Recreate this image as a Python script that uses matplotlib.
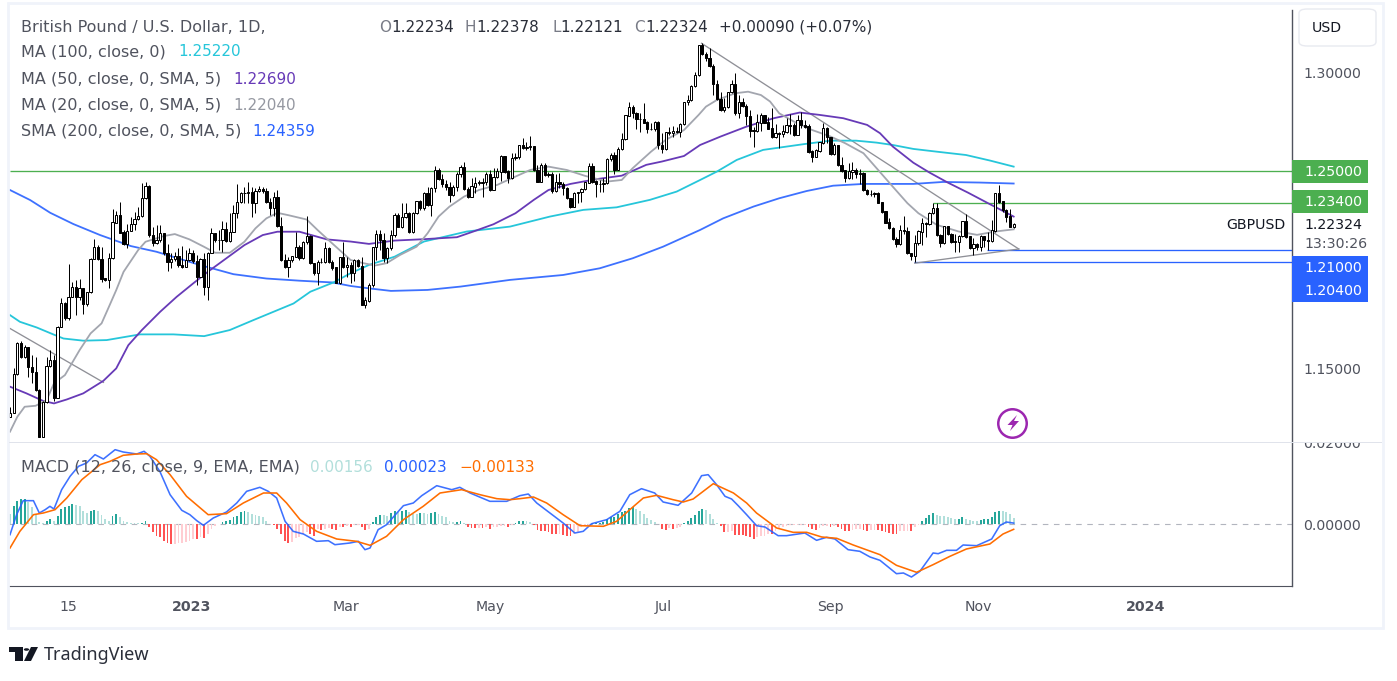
import numpy as np
import matplotlib
matplotlib.use('Agg')
import matplotlib.pyplot as plt
from matplotlib.patches import Rectangle, FancyBboxPatch, Polygon, Circle
from matplotlib.transforms import Bbox

W, H = 1397, 681

# daily candles
closes = [
    1.1272,1.1469,1.1625,1.1557,1.1608,1.1506,1.1481,1.1388,1.1150,1.1328,
    1.1510,1.1540,1.1349,1.1710,1.1832,1.1752,1.1862,1.1910,1.1859,1.1905,
    1.1825,1.1884,1.2054,1.2113,1.2054,1.1955,1.1947,1.2057,1.2239,1.2277,
    1.2188,1.2133,1.2196,1.2232,1.2259,1.2272,1.2362,1.2425,1.2176,1.2137,
    1.2150,1.2184,1.2083,1.2040,1.2052,1.2066,1.2023,1.2015,1.2049,1.2083,
    1.2045,1.1964,1.2052,1.1910,1.2086,1.2184,1.2150,1.2150,1.2208,1.2147,
    1.2193,1.2286,1.2345,1.2388,1.2388,1.2396,1.2337,1.2400,1.2408,1.2398,
    1.2342,1.2316,1.2371,1.2222,1.2049,1.2015,1.2049,1.2066,1.2116,1.2057,
    1.2142,1.2171,1.2032,1.1984,1.2040,1.2040,1.2108,1.2040,1.2011,1.1933,
    1.2062,1.2015,1.2023,1.1982,1.2046,1.2019,1.1821,1.1843,1.1922,1.2114,
    1.2180,1.2151,1.2058,1.2109,1.2177,1.2278,1.2219,1.2266,1.2287,1.2190,
    1.2287,1.2346,1.2312,1.2388,1.2329,1.2414,1.2507,1.2460,1.2436,1.2419,
    1.2380,1.2419,1.2487,1.2521,1.2411,1.2372,1.2422,1.2439,1.2443,1.2444,
    1.2487,1.2405,1.2470,1.2499,1.2578,1.2499,1.2465,1.2566,1.2572,1.2631,
    1.2617,1.2622,1.2626,1.2507,1.2448,1.2533,1.2482,1.2487,1.2402,1.2443,
    1.2436,1.2414,1.2363,1.2321,1.2388,1.2394,1.2409,1.2443,1.2527,1.2448,
    1.2436,1.2436,1.2439,1.2561,1.2583,1.2507,1.2612,1.2663,1.2783,1.2826,
    1.2795,1.2765,1.2765,1.2748,1.2714,1.2714,1.2750,1.2634,1.2612,1.2697,
    1.2697,1.2702,1.2702,1.2739,1.2851,1.2863,1.2934,1.2990,1.3139,1.3095,
    1.3075,1.3036,1.2943,1.2866,1.2812,1.2826,1.2902,1.2944,1.2795,1.2850,
    1.2833,1.2782,1.2707,1.2707,1.2748,1.2787,1.2748,1.2717,1.2673,1.2694,
    1.2690,1.2702,1.2736,1.2733,1.2685,1.2758,1.2736,1.2727,1.2600,1.2575,
    1.2605,1.2646,1.2719,1.2673,1.2588,1.2634,1.2533,1.2504,1.2465,1.2499,
    1.2507,1.2487,1.2490,1.2405,1.2385,1.2383,1.2388,1.2341,1.2295,1.2239,
    1.2211,1.2155,1.2131,1.2202,1.2197,1.2083,1.2070,1.2134,1.2194,1.2236,
    1.2233,1.2287,1.2312,1.2177,1.2134,1.2219,1.2180,1.2143,1.2141,1.2172,
    1.2244,1.2168,1.2109,1.2131,1.2117,1.2172,1.2151,1.2148,1.2199,1.2388,
    1.2346,1.2304,1.2270,1.2219,1.2232]
highs = [
    1.1303,1.1498,1.1633,1.1639,1.1616,1.1608,1.1566,1.1557,1.1391,1.1333,
    1.1557,1.1594,1.1566,1.1713,1.1854,1.1837,1.2028,1.1939,1.1950,1.1955,
    1.1896,1.1888,1.2057,1.2154,1.2125,1.2116,1.1959,1.2083,1.2306,1.2300,
    1.2342,1.2201,1.2232,1.2269,1.2294,1.2320,1.2442,1.2447,1.2430,1.2218,
    1.2227,1.2227,1.2188,1.2128,1.2083,1.2091,1.2108,1.2120,1.2100,1.2108,
    1.2100,1.2074,1.2057,1.2083,1.2091,1.2210,1.2188,1.2201,1.2249,1.2244,
    1.2286,1.2328,1.2435,1.2396,1.2418,1.2447,1.2422,1.2413,1.2425,1.2422,
    1.2413,1.2362,1.2396,1.2405,1.2269,1.2079,1.2066,1.2069,1.2193,1.2125,
    1.2147,1.2272,1.2176,1.2035,1.2049,1.2057,1.2142,1.2116,1.2049,1.2015,
    1.2066,1.2142,1.2066,1.2041,1.2053,1.2053,1.2066,1.1863,1.1931,1.2117,
    1.2202,1.2202,1.2185,1.2117,1.2202,1.2287,1.2290,1.2338,1.2341,1.2295,
    1.2295,1.2351,1.2355,1.2394,1.2422,1.2422,1.2527,1.2516,1.2485,1.2456,
    1.2448,1.2431,1.2499,1.2533,1.2546,1.2422,1.2465,1.2473,1.2456,1.2465,
    1.2499,1.2507,1.2516,1.2516,1.2583,1.2575,1.2507,1.2595,1.2592,1.2634,
    1.2668,1.2651,1.2680,1.2629,1.2533,1.2541,1.2541,1.2499,1.2499,1.2487,
    1.2490,1.2448,1.2422,1.2363,1.2394,1.2397,1.2417,1.2448,1.2544,1.2544,
    1.2456,1.2456,1.2465,1.2566,1.2595,1.2600,1.2622,1.2697,1.2787,1.2855,
    1.2838,1.2804,1.2795,1.2846,1.2758,1.2744,1.2758,1.2758,1.2694,1.2702,
    1.2724,1.2731,1.2727,1.2744,1.2855,1.2888,1.2939,1.3007,1.3143,1.3151,
    1.3109,1.3126,1.3044,1.2965,1.2905,1.2872,1.2905,1.2965,1.2999,1.2888,
    1.2872,1.2843,1.2812,1.2727,1.2792,1.2795,1.2787,1.2775,1.2821,1.2739,
    1.2702,1.2736,1.2770,1.2792,1.2748,1.2787,1.2804,1.2761,1.2741,1.2609,
    1.2612,1.2651,1.2744,1.2727,1.2677,1.2643,1.2634,1.2572,1.2507,1.2544,
    1.2550,1.2516,1.2511,1.2499,1.2409,1.2405,1.2397,1.2397,1.2346,1.2300,
    1.2261,1.2216,1.2165,1.2227,1.2273,1.2219,1.2087,1.2177,1.2202,1.2261,
    1.2244,1.2295,1.2338,1.2338,1.2182,1.2222,1.2219,1.2188,1.2182,1.2177,
    1.2250,1.2283,1.2168,1.2160,1.2138,1.2177,1.2172,1.2194,1.2253,1.2392,
    1.2431,1.2351,1.2307,1.2307,1.2236]
lows = [
    1.1252,1.1269,1.1464,1.1549,1.1549,1.1455,1.1422,1.1384,1.1147,1.1147,
    1.1320,1.1506,1.1333,1.1345,1.1710,1.1744,1.1744,1.1862,1.1769,1.1845,
    1.1777,1.1815,1.1879,1.2052,1.2049,1.1939,1.1944,1.1905,1.2055,1.2239,
    1.2184,1.2125,1.2108,1.2201,1.2201,1.2252,1.2269,1.2357,1.2167,1.2120,
    1.2133,1.2142,1.2074,1.1994,1.2006,1.2045,1.2015,1.2006,1.2015,1.2045,
    1.2032,1.1922,1.1961,1.1871,1.1845,1.2083,1.2142,1.2100,1.2091,1.2142,
    1.2142,1.2193,1.2261,1.2337,1.2337,1.2337,1.2266,1.2286,1.2396,1.2388,
    1.2337,1.2277,1.2272,1.2218,1.2045,1.2011,1.1964,1.2040,1.2066,1.2049,
    1.2052,1.2133,1.2028,1.1972,1.1922,1.2035,1.2035,1.2032,1.1998,1.1930,
    1.1927,1.2006,1.1964,1.1931,1.1944,1.2016,1.1821,1.1804,1.1838,1.1914,
    1.2050,1.2100,1.2041,1.2033,1.2100,1.2168,1.2216,1.2211,1.2261,1.2188,
    1.2188,1.2283,1.2304,1.2304,1.2324,1.2275,1.2397,1.2456,1.2422,1.2405,
    1.2346,1.2377,1.2400,1.2473,1.2405,1.2363,1.2368,1.2388,1.2431,1.2372,
    1.2431,1.2402,1.2405,1.2465,1.2453,1.2490,1.2443,1.2460,1.2558,1.2561,
    1.2612,1.2609,1.2609,1.2504,1.2446,1.2446,1.2477,1.2473,1.2392,1.2397,
    1.2414,1.2380,1.2358,1.2312,1.2317,1.2338,1.2346,1.2405,1.2439,1.2439,
    1.2372,1.2397,1.2397,1.2436,1.2555,1.2487,1.2507,1.2609,1.2660,1.2782,
    1.2770,1.2717,1.2702,1.2744,1.2694,1.2710,1.2707,1.2612,1.2595,1.2609,
    1.2685,1.2677,1.2694,1.2677,1.2736,1.2838,1.2860,1.2931,1.2987,1.3092,
    1.3063,1.3033,1.2888,1.2863,1.2809,1.2804,1.2821,1.2897,1.2787,1.2770,
    1.2826,1.2736,1.2677,1.2626,1.2702,1.2707,1.2744,1.2714,1.2668,1.2668,
    1.2617,1.2677,1.2697,1.2690,1.2680,1.2727,1.2719,1.2722,1.2595,1.2550,
    1.2572,1.2600,1.2639,1.2643,1.2583,1.2583,1.2527,1.2499,1.2448,1.2461,
    1.2461,1.2465,1.2436,1.2402,1.2380,1.2375,1.2372,1.2338,1.2290,1.2236,
    1.2205,1.2151,1.2114,1.2126,1.2182,1.2080,1.2050,1.2038,1.2126,1.2126,
    1.2168,1.2227,1.2283,1.2172,1.2117,1.2131,1.2177,1.2134,1.2092,1.2092,
    1.2164,1.2160,1.2104,1.2075,1.2100,1.2097,1.2117,1.2100,1.2143,1.2194,
    1.2341,1.2295,1.2244,1.2216,1.2211]
first_open = 1.1252

# moving averages: bar number / price at the bends of each line
ma20_bar = [0,2,4,7,10,12,15,19,22,25,27,29,31,35,37,42,45,49,53,56,60,64,67,70,73,76,81,84,88,93,
            96.5,99.6,102.8,106.5,111,114,117,120,124,128,133,137,142,147,152,157,163,167,170,175,179,184,188,
            190,193,198,201.5,205,207.5,210,214,219,224,228,233,237,241,245,248,253,259,264,269,274]
ma20_val = [1.1176,1.1252,1.1303,1.1308,1.1337,1.1422,1.1464,1.1591,1.1676,1.1727,1.1811,1.1896,1.1989,1.2100,1.2142,
            1.2171,1.2181,1.2154,1.2116,1.2086,1.2086,1.2142,1.2210,1.2261,1.2289,1.2277,1.2255,1.2201,1.2133,1.2049,
            1.2033,1.2021,1.2033,1.2075,1.2117,1.2185,1.2270,1.2321,1.2372,1.2405,1.2431,1.2465,1.2507,1.2524,1.2507,
            1.2477,1.2448,1.2456,1.2516,1.2600,1.2660,1.2710,1.2787,
            1.2829,1.2863,1.2897,1.2905,1.2888,1.2855,1.2795,1.2753,1.2710,1.2677,1.2643,1.2592,1.2507,1.2422,1.2338,
            1.2287,1.2228,1.2194,1.2177,1.2194,1.2205]
ma50_bar = [0,4.5,9,12,15.5,20,25.5,29,32.3,36,41,45.5,50,54,59,64,69,73,79,86.5,93,
            98,105,113,122,126.5,132,138,143,147,153,160,167,173.7,178,184,188.4,
            194,201,208.5,215.6,221,227.5,234,237.5,241,246.6,251,256,261.5,267,274]
ma50_val = [1.1405,1.1371,1.1333,1.1320,1.1340,1.1371,1.1435,1.1498,1.1616,1.1693,1.1786,1.1862,1.1930,1.1989,
            1.2057,1.2125,1.2176,1.2193,1.2193,1.2154,1.2143,
            1.2131,1.2148,1.2155,1.2165,1.2194,1.2231,1.2287,1.2355,1.2405,1.2436,1.2460,1.2478,1.2533,1.2550,1.2578,1.2634,
            1.2677,1.2727,1.2770,1.2799,1.2787,1.2770,1.2736,1.2694,1.2626,1.2544,1.2494,1.2443,1.2392,1.2338,1.2270]
ma100_bar = [0,2.7,7.3,11.8,14.6,20,26.4,35.5,44.6,53,60,66.5,77.4,82,88.3,93,
             98,105,113,124.7,136.5,147.4,156.5,165.6,174.7,182,188.4,
             193,198.4,205.6,216.6,224,231,236.6,241,246.6,253,261,267.5,274]
ma100_val = [1.1769,1.1735,1.1706,1.1671,1.1650,1.1639,1.1642,1.1671,1.1671,1.1662,1.1693,1.1744,1.1828,1.1888,1.1935,1.1982,
             1.2024,1.2066,1.2143,1.2194,1.2219,1.2270,1.2304,1.2317,1.2355,1.2397,1.2456,
             1.2499,1.2558,1.2609,1.2638,1.2656,1.2656,1.2646,1.2634,1.2614,1.2600,1.2583,1.2555,1.2524]
sma200_bar = [0,5.5,11,17.3,24.6,33,40,52,61,70,79,88,93,
              98,104,114,123,136.5,151,161,170,178.3,188.4,
              194.7,203,210,217.5,224.7,233,246.6,254.7,264.7,274]
sma200_val = [1.2405,1.2354,1.2289,1.2232,1.2176,1.2120,1.2091,1.2023,1.1977,1.1955,1.1944,1.1935,1.1917,
              1.1905,1.1892,1.1897,1.1914,1.1948,1.1973,1.2007,1.2058,1.2117,1.2202,
              1.2261,1.2321,1.2363,1.2400,1.2427,1.2436,1.2436,1.2446,1.2443,1.2438]

# macd pane
macd_bar = [0,1.8,3.6,6.4,8,9.6,10.9,12,14.1,16.4,18.7,20.9,23.2,25.5,28.7,30.9,34.6,36.6,38.2,40.9,43.7,46.9,49.1,51,
            52.8,55.5,59.1,61.9,64.6,68.2,70.5,72.8,75.1,77.3,80.1,83.7,86.9,88.7,92.8,95.1,96.9,98.3,100.5,102.8,
            107.4,110.1,112.4,116.5,120.6,122.8,125.6,131,135.6,139.2,141.5,143.8,147.4,151,154.2,156.5,158.8,162.9,
            166.5,169.2,172.4,176,178.3,182.4,186.1,188.8,190.6,192.9,195.2,197,198.8,201.1,203.8,206.1,209.7,212,217,
            220.2,222.9,225.2,228.8,232,234.8,237.5,242,243.9,246.1,248.4,252,253.4,255.7,258.4,260.2,263.9,268,270.2,272,274]
macd_val = [-.00267,.00233,.00583,.00583,.00275,.00358,.00442,.00375,.00858,.01192,.01442,.01525,.01733,.01625,.01858,
            .018,.0175,.01817,.01692,.01317,.00733,.00342,.00233,.00083,-.00033,.0015,.003,.00525,.00817,.00917,.00817,
            .0065,.00067,-.00183,-.0025,-.00433,-.00417,-.00517,-.00475,-.00433,-.00642,-.006,-.00142,-.00017,.00458,
            .00525,.00708,.00958,.00858,.00917,.00775,.00567,.00567,.00708,.0075,.00525,.00275,.00025,-.00225,-.00183,
            .00008,.00108,.00317,.00733,.00883,.00775,.0055,.00467,.00775,.01208,.01233,.00983,.00692,.00625,.00458,
            .00233,-.00042,-.00075,-.00292,-.00292,-.00225,-.00408,-.00333,-.00375,-.00642,-.00683,-.00825,-.00908,
            -.01242,-.01225,-.01325,-.01183,-.00725,-.00742,-.00658,-.00658,-.00525,-.00542,-.00375,-.00042,.0005,.00023]
signal_bar = [0,2.7,6.4,9.1,12.3,15.5,19.6,24.6,27.3,30.9,34.6,37.3,40,43.7,48.2,54.1,59.1,63.7,69.2,72.8,75.5,79.2,83.7,
              89.2,94.6,98.3,102.8,107.4,112.8,117.4,123.3,128.3,132.9,136.5,139.2,142.9,146.5,151,155.6,162,165.6,169.2,
              172.9,176.5,181,183.8,186.5,192,197.5,201.1,203.8,209.3,213.8,217.5,221.6,225.7,230.2,237.5,242,247.5,252,
              256.6,261.1,267.5,271.1,274]
signal_val = [-.006,-.00183,.00233,.00275,.00358,.0065,.01108,.01483,.01567,.01717,.0175,.01758,.01608,.01233,.00692,.00233,
              .00258,.00525,.00775,.00775,.00525,.00108,-.00183,-.00375,-.00433,-.00533,-.00308,.00108,.00442,.00775,.00858,
              .00733,.00633,.00608,.00633,.00675,.00525,.00233,-.00042,-.00058,.00067,.00358,.0065,.00717,.00608,.0055,.00625,
              .01008,.00775,.00525,.00275,-.001,-.00208,-.00208,-.00325,-.00358,-.00525,-.00767,-.01033,-.01208,-.01017,
              -.00808,-.00625,-.005,-.0025,-.00133]
macd_hist = [
    .0025,.00458,.00583,.00625,.0063,.00542,.00417,.0025,.00042,.00025,
    .00083,.00125,.00067,.00208,.00375,.00417,.00458,.005,.00475,.00458,
    .00317,.00275,.00333,.00358,.00333,.00233,.00125,.00083,.00208,.0025,
    .00183,.00083,.00042,.00025,.00017,.00017,.00033,.00083,-.00083,-.00208,
    -.00308,-.00333,-.00417,-.00483,-.005,-.0049,-.0048,-.0047,-.00458,-.00417,
    -.00375,-.00385,-.00333,-.0035,-.0025,-.00125,-.00042,.00008,.00042,.00067,
    .001,.00167,.00208,.00292,.00317,.00292,.0025,.00225,.00208,.00183,
    .00083,.00008,-.00025,-.00125,-.0025,-.00417,-.00483,-.00458,-.0035,-.00317,
    -.0025,-.00208,-.0025,-.00292,-.00125,-.0015,-.00125,-.00108,-.00125,-.0015,
    -.00067,-.00083,-.00042,-.00067,-.00025,-.00025,-.00083,-.0015,-.00125,.00042,
    .00167,.00233,.00225,.00208,.00267,.00333,.00292,.00333,.0035,.00292,
    .0025,.0025,.00275,.00267,.0025,.00275,.00292,.0025,.00208,.00167,
    .00083,.00058,.0006,.00083,.00025,-.00083,-.001,-.00108,-.001,-.00108,
    -.00083,-.00125,-.00083,-.00067,-.0005,-.00042,-.00067,-.00025,.00025,.00067,
    .00083,.00075,.00042,-.00025,-.0015,-.00167,-.00183,-.00208,-.0025,-.00255,
    -.0025,-.00267,-.00292,-.00308,-.0025,-.00208,-.00083,-.00042,-.00033,.00017,
    .00018,.00025,.00042,.00125,.00167,.00168,.0025,.00292,.00333,.004,
    .00417,.00375,.00333,.0025,.0015,.001,.00042,.00001,-.00125,-.0015,
    -.001,-.00125,-.001,-.00067,.00017,.00067,.0015,.00233,.00333,.00375,
    .0035,.0025,.00125,.00017,-.00042,-.00208,-.002,-.00183,-.00267,-.00275,
    -.00276,-.00308,-.00333,-.00375,-.00317,-.00292,-.00291,-.0025,-.00252,-.00183,
    -.00125,-.00083,-.00042,-.00025,-.00024,-.00017,-.00016,-.00015,-.00067,-.00125,
    -.0015,-.001,-.00042,-.00041,-.00067,-.00058,-.00083,-.00125,-.00183,-.00184,
    -.0015,-.00125,-.00124,-.0015,-.00167,-.0015,-.00142,-.0015,-.00167,-.00208,
    -.00225,-.0025,-.00251,-.00183,-.00167,-.00166,-.00167,-.00083,-.00025,.00083,
    .0015,.00225,.00275,.00233,.002,.00192,.00167,.00142,.00125,.00126,
    .00167,.00125,.001,.00083,.00075,.001,.00117,.00125,.00167,.00292,
    .00317,.00316,.00292,.0025,.00156]

# drawings on the chart
trend1_bar, trend1_val = [0, 25.5], [1.1701, 1.1427]
trend2_bar, trend2_val = [188.8, 275.4], [1.3151, 1.2105]
trend3_bar, trend3_val = [247, 275.4], [1.2033, 1.2105]
level_start = {1.25: 0, 1.234: 252, 1.21: 266.6, 1.204: 246.9}

x_ticks = [15.8, 49.7, 91.7, 131, 178.3, 223.9, 264.5, 310.1]
x_labels = ['15', '2023', 'Mar', 'May', 'Jul', 'Sep', 'Nov', '2024']

GREEN = '#4caf50'
BLUE = '#2962ff'
CYAN = '#26c6da'
PURPLE = '#673ab7'
GREY = '#9598a1'
ORANGE = '#ff6d00'
TXT = '#50535e'
BORDER = '#f0f3fa'

plt.rcParams['font.family'] = ['DejaVu Sans']
fig = plt.figure(figsize=(W / 100, H / 100), dpi=100, facecolor='white')


def pane(left, top, right, bottom):
    return fig.add_axes([left / W, 1 - bottom / H, (right - left) / W, (bottom - top) / H])


def ftext(x, y, s, **kw):
    kw.setdefault('va', 'center')
    kw.setdefault('fontsize', 10.2)
    kw.setdefault('color', TXT)
    return fig.text(x / W, 1 - y / H, s, **kw)


def pxbox(x0, y0, x1, y1, **kw):
    fig.add_artist(Rectangle((x0 / W, 1 - y1 / H), (x1 - x0) / W, (y1 - y0) / H,
                             transform=fig.transFigure, **kw))


# outer frame
pxbox(8, 3, 1383, 628, fc='none', ec=BORDER, lw=2)

ax = pane(9, 10, 1292, 442)
ax2 = pane(9, 443, 1292, 586)
px = 3.663
xlim = (-1 / px * 1.0, (1292 - 10) / px)
ax.set_xlim(xlim)
ax2.set_xlim(xlim)
ax.set_ylim(1.30 - 369 / 1966.7, 1.30 + 63 / 1966.7)
ax2.set_ylim(-62 / 4000, 81 / 4000)

# candles
closes = np.array(closes)
highs = np.array(highs)
lows = np.array(lows)
opens = np.r_[first_open, closes[:-1]]
bars = np.arange(len(closes))
up = closes >= opens

# levels and trend lines go under the candles
for lvl, start in level_start.items():
    ax.hlines(lvl, start, xlim[1], color=GREEN if lvl > 1.23 else BLUE, lw=0.95, zorder=1)
for tb, tv in [(trend1_bar, trend1_val), (trend2_bar, trend2_val), (trend3_bar, trend3_val)]:
    ax.plot(tb, tv, color='#8f9097', lw=0.95, zorder=1)

ax.plot(sma200_bar, sma200_val, color=BLUE, lw=1.3, alpha=0.9, zorder=2, solid_joinstyle='round')
ax.plot(ma100_bar, ma100_val, color=CYAN, lw=1.3, zorder=2, solid_joinstyle='round')
ax.plot(ma50_bar, ma50_val, color=PURPLE, lw=1.3, zorder=2, solid_joinstyle='round')
ax.plot(ma20_bar, ma20_val, color='#a3a6af', lw=1.3, zorder=2, solid_joinstyle='round')

ax.vlines(bars, lows, highs, color='black', lw=0.72, zorder=3)
ax.bar(bars, np.abs(closes - opens) + 1e-4, bottom=np.minimum(opens, closes), width=0.62,
       color=np.where(up, 'white', 'black'), edgecolor='black', lw=0.72, zorder=4)

# macd histogram, four colours depending on the sign and the change
hist = np.array(macd_hist)
prev = np.r_[hist[0], hist[:-1]]
cols = []
for h, p in zip(hist, prev):
    if h >= 0:
        cols.append('#26a69a' if h > p else '#b2dfdb')
    else:
        cols.append('#ff5252' if h < p else '#ffcdd2')
ax2.axhline(0, color='#b2b5be', lw=0.8, ls=(0, (5, 5)), zorder=1)
ax2.bar(bars, hist, width=0.5, color=cols, lw=0, zorder=2)
ax2.plot(macd_bar, macd_val, color=BLUE, lw=1.15, alpha=0.9, zorder=3, solid_joinstyle='round')
ax2.plot(signal_bar, signal_val, color=ORANGE, lw=1.15, zorder=3, solid_joinstyle='round')

# axes look
for a in (ax, ax2):
    for s in ('left', 'top'):
        a.spines[s].set_visible(False)
    a.spines['right'].set_color(TXT)
    a.spines['right'].set_linewidth(1)
    a.yaxis.tick_right()
    a.tick_params(axis='y', length=0, pad=8, labelsize=10.2, labelcolor=TXT)
ax.spines['bottom'].set_visible(False)
ax.set_xticks([])
ax.set_yticks([1.15, 1.30])
ax.set_yticklabels(['1.15000', '1.30000'])
ax2.spines['bottom'].set_color(TXT)
ax2.set_yticks([0])
ax2.set_yticklabels(['0.00000'])
ax2.set_xticks(x_ticks)
ax2.set_xticklabels(x_labels, fontsize=10.2, color=TXT)
ax2.tick_params(axis='x', length=0, pad=10)
for t, lab in zip(ax2.get_xticklabels(), x_labels):
    if lab.isdigit() and len(lab) == 4:
        t.set_fontweight('bold')

# pane separator runs on across the price scale, the top tick label is cut by it
pxbox(9, 442, 1382, 443, fc='#e0e3eb', ec='none', zorder=5)
cut = ftext(1303, 444, '0.02000', clip_on=True)
cut.set_clip_box(Bbox([[1293, 0], [1383, H - 443]]))

# legend text, top left
NAME_FS = 11.5
VAL_FS = 11.0
ftext(21, 27, 'British Pound / U.S. Dollar, 1D,', fontsize=NAME_FS)
ohlc = [(379, 'O', 391, '1.22234'), (465, 'H', 476, '1.22378'), (552, 'L', 560, '1.22121'), (634, 'C', 645, '1.22324')]
for xl, letter, xv, val in ohlc:
    ftext(xl, 27, letter, fontsize=VAL_FS, color='#787b86')
    ftext(xv, 27, val, fontsize=VAL_FS, color='#2a2e39')
ftext(719, 27, '+0.00090 (+0.07%)', fontsize=VAL_FS, color='#2a2e39')
ma_rows = [(52, 'MA (100, close, 0)', 178, '1.25220', CYAN),
           (79, 'MA (50, close, 0, SMA, 5)', 233, '1.22690', PURPLE),
           (105, 'MA (20, close, 0, SMA, 5)', 233, '1.22040', GREY),
           (131, 'SMA (200, close, 0, SMA, 5)', 252, '1.24359', BLUE)]
for y, name, xv, val, col in ma_rows:
    ftext(21, y, name, fontsize=NAME_FS)
    ftext(xv, y, val, color=col, fontsize=VAL_FS)
ftext(21, 467, 'MACD (12, 26, close, 9, EMA, EMA)', fontsize=NAME_FS)
ftext(310, 467, '0.00156', color='#b2dfdb', fontsize=VAL_FS)
ftext(384, 467, '0.00023', color=BLUE, fontsize=VAL_FS)
ftext(459, 467, '\u22120.00133', color=ORANGE, fontsize=VAL_FS)

# right axis extras
fig.add_artist(FancyBboxPatch((1299 / W, 1 - 46 / H), 77 / W, 37 / H, transform=fig.transFigure,
                              boxstyle='round,pad=0,rounding_size=0.006', fc='white', ec='#e8eaf0', lw=1))
ftext(1312, 28, 'USD', color='#131722')
for y0, y1, col in [(160, 183, GREEN), (190, 213, GREEN), (256, 302, BLUE)]:
    pxbox(1292, y0, 1368, y1, fc=col, ec='none', zorder=5)
for y, s in [(172, '1.25000'), (202, '1.23400'), (268, '1.21000'), (291, '1.20400')]:
    ftext(1304, y, s, color='white', zorder=6)
ftext(1226, 225, 'GBPUSD', color='#131722')
ftext(1304, 225, '1.22324', color='#131722')
ftext(1304, 244, '13:30:26')

# lightning badge
ax.plot([273.6], [1.1220], marker='o', ms=20.5, mfc='white', mec='#9c27b0', mew=1.8, zorder=5)
bolt = [(1017, 415), (1007.5, 425), (1012.5, 425), (1010, 431), (1019, 421), (1014, 421)]
fig.add_artist(Polygon([(a / W, 1 - b / H) for a, b in bolt], closed=True, transform=fig.transFigure,
                       fc='#9c27b0', ec='none', zorder=6))

# logo
logo = '#131722'
for pts in ([(9, 647), (23, 647), (23, 661), (15, 661), (15, 652), (9, 652)],
            [(31, 647), (38, 647), (31, 661), (24, 661)]):
    fig.add_artist(Polygon([(a / W, 1 - b / H) for a, b in pts], closed=True, transform=fig.transFigure,
                           fc=logo, ec='none'))
fig.add_artist(Circle((26.5 / W, 1 - 649.5 / H), 0.0019, transform=fig.transFigure, fc=logo, ec='none'))
ftext(44, 655, 'TradingView', fontsize=13.0, color='#2a2e39', family='Noto Sans')

fig.savefig('out.png', dpi=100)
